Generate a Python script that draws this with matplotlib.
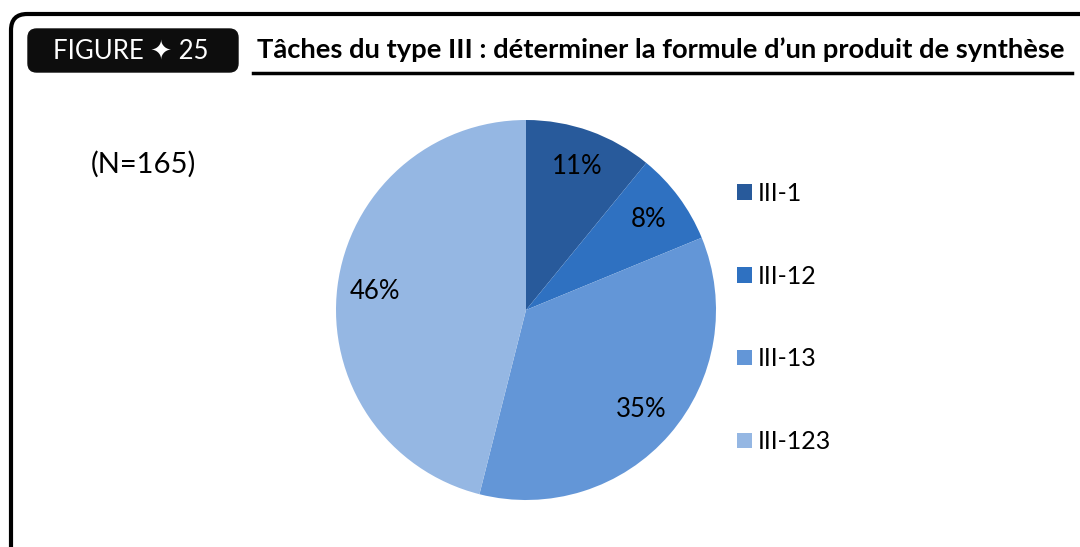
import matplotlib.pyplot as plt
from matplotlib.patches import FancyBboxPatch
from matplotlib.lines import Line2D

plt.rcParams['font.family'] = ['Lato', 'DejaVu Sans']

categories = ['III-1', 'III-12', 'III-13', 'III-123']
counts = [18, 13, 58, 76]
colors = ['#285A9B', '#2F71C1', '#6396D7', '#95B7E3']
title = "Tâches du type III : déterminer la formule d\u2019un produit de synthèse"
fig_label = 'FIGURE \u2726 25'
n_label = '(N=165)'

W, H = 1080, 547
fig = plt.figure(figsize=(W / 100, H / 100), dpi=100)

def fx(px):
    return px / W

def fy(py):
    return 1 - py / H

# outer rounded frame (runs off the right and bottom edges)
frame = FancyBboxPatch((fx(11), fy(620)), fx(1200), fy(14) - fy(620),
                       boxstyle='round,pad=0,rounding_size=0.015',
                       transform=fig.transFigure, fill=False, lw=3, ec='black',
                       mutation_aspect=W / H)
fig.add_artist(frame)

# black label box
box = FancyBboxPatch((fx(28), fy(72)), fx(238) - fx(28), fy(29) - fy(72),
                     boxstyle='round,pad=0,rounding_size=0.008',
                     transform=fig.transFigure, fc='#0d0d0d', ec='#0d0d0d',
                     mutation_aspect=W / H)
fig.add_artist(box)
fig.text(fx(131), fy(51), fig_label, color='white', fontsize=18.5,
         ha='center', va='center')

fig.text(fx(257), fy(50), title, fontsize=19.7, fontweight='bold',
         ha='left', va='center')
fig.add_artist(Line2D([fx(253), fx(1072)], [fy(73), fy(73)],
                      transform=fig.transFigure, color='black', lw=2.5))

fig.text(fx(143), fy(164), n_label, fontsize=21, ha='center', va='center')

# pie
ax = fig.add_axes([fx(336), fy(500), fx(380), 380 / H])
wedges, texts, autotexts = ax.pie(counts, colors=colors, startangle=90,
                                  counterclock=False, autopct='%1.0f%%',
                                  pctdistance=0.8,
                                  wedgeprops=dict(lw=0),
                                  textprops=dict(fontsize=18.5, color='black'))
ax.set_xlim(-1, 1)
ax.set_ylim(-1, 1)
ax.set_aspect('equal')

fig.legend(wedges, categories, loc='upper left',
           bbox_to_anchor=(fx(727), fy(172)), frameon=False, fontsize=18,
           labelspacing=2.39, handlelength=0.58, handleheight=0.58,
           handletextpad=0.25, borderaxespad=0)

fig.savefig('out.png', dpi=100)
